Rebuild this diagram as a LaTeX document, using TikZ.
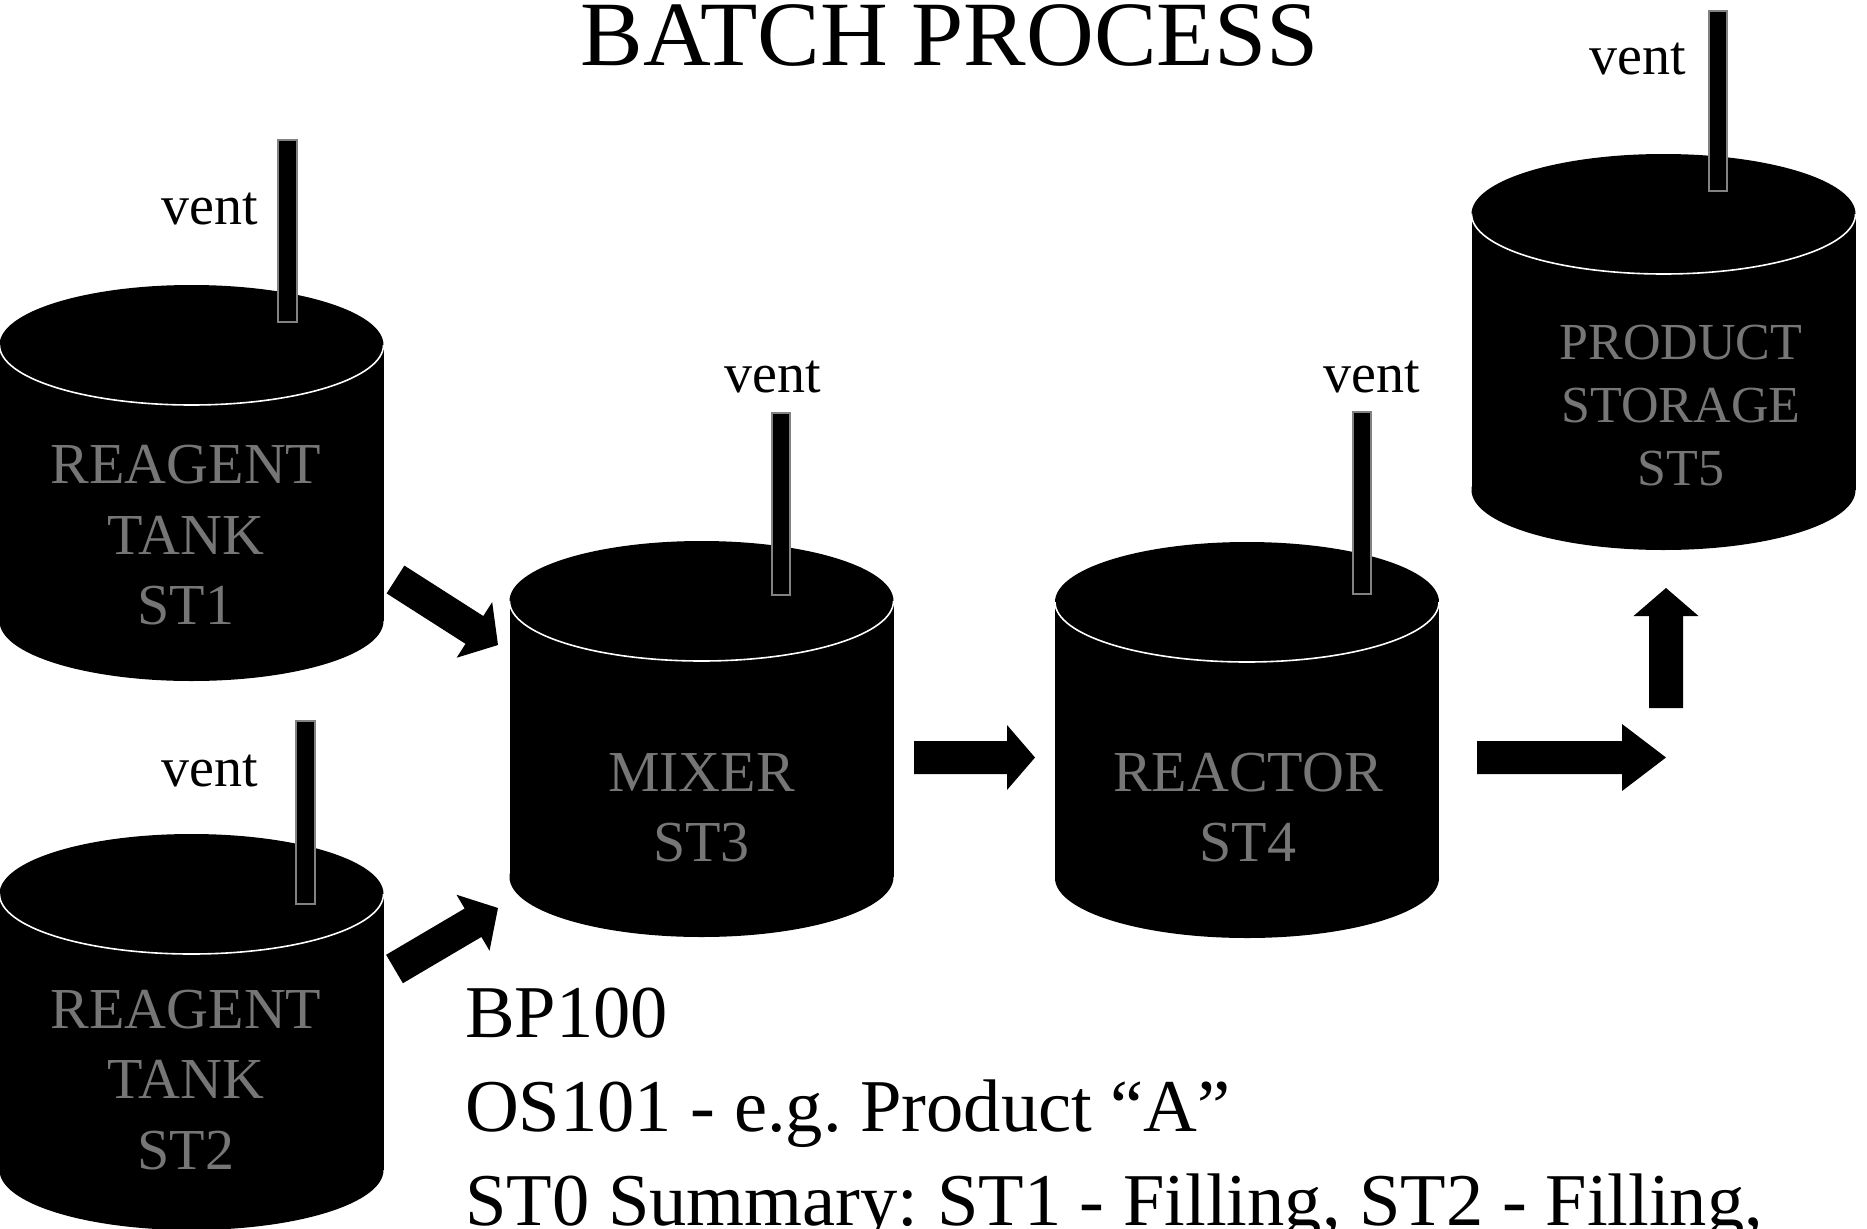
\documentclass[tikz,border=0pt]{standalone}
\usepackage{fontspec}
\setmainfont{Liberation Serif}
\usetikzlibrary{calc}
\frenchspacing
\definecolor{lbl}{RGB}{118,118,118}
\definecolor{ventedge}{RGB}{130,130,130}
\tikzset{
  tank/.pic={
    \fill[black] (0,276) ellipse [x radius=192, y radius=60];
    \fill[black] (-192,0) rectangle (192,276);
    \fill[black] (0,0) ellipse [x radius=192, y radius=60];
    \begin{scope}
      \clip (-200,0) rectangle (200,70);
      \draw[white, line width=1.6pt] (0,0) ellipse [x radius=192, y radius=60];
    \end{scope}
  },
  ventpipe/.style={draw=ventedge, line width=1.5pt, fill=black},
  venttext/.style={font=\fontsize{56}{60}\selectfont, anchor=base, inner sep=0pt},
  tanklabel/.style={text=lbl, align=center, inner sep=0pt, font=\fontsize{58}{70.5}\selectfont},
}
\newcommand\blockarrow[5]{%
  \path ($(#2)!#5!(#1)$) coordinate (ba);
  \fill[black] ($(#1)!#3!90:(#2)$) -- ($(ba)!#3!90:(#2)$) -- ($(ba)!#4!90:(#2)$) -- (#2)
    -- ($(ba)!#4!-90:(#2)$) -- ($(ba)!#3!-90:(#2)$) -- ($(#1)!#3!-90:(#2)$) -- cycle;
}
\begin{document}
\begin{tikzpicture}[x=1pt,y=-1pt]
\useasboundingbox (0,0) rectangle (1867,1228);
\fill[white] (0,0) rectangle (1867,1228);

% title
\node[font=\fontsize{92}{100}\selectfont, anchor=base, inner sep=0pt, xscale=1.02, transform shape] (title) at (949.5,66) {BATCH PROCESS};

% tanks
\pic (t1) at (191.5,345) {tank};
\pic (t2) at (191.5,894) {tank};
\pic (t3) at (701.5,601) {tank};
\pic (t4) at (1247,602) {tank};
\pic (t5) at (1663.5,214) {tank};

% vents
\draw[ventpipe] (278,140) rectangle (297,322);
\draw[ventpipe] (296,721) rectangle (315,904);
\draw[ventpipe] (772,413) rectangle (790,595);
\draw[ventpipe] (1353,412) rectangle (1371,594);
\draw[ventpipe] (1709,11) rectangle (1727,191);

\node[venttext] (v1) at (210,224) {vent};
\node[venttext] (v2) at (210,786) {vent};
\node[venttext] (v3) at (773,392) {vent};
\node[venttext] (v4) at (1372,392) {vent};
\node[venttext] (v5) at (1637.5,75) {vent};

% tank labels
\node[tanklabel] (l1) at (186,535.3) {REAGENT\\TANK\\ST1};
\node[tanklabel] (l2) at (186,1079.8) {REAGENT\\TANK\\ST2};
\node[tanklabel] (l3) at (701.5,807.8) {MIXER\\ST3};
\node[tanklabel] (l4) at (1248,807.8) {REACTOR\\ST4};
\node[tanklabel, font=\fontsize{52}{63}\selectfont] (l5) at (1681,405.8) {PRODUCT\\STORAGE\\ST5};

% arrows
\coordinate (a1t) at (395.5,579.5); \coordinate (a1h) at (498,645);
\coordinate (a2t) at (394.5,969);   \coordinate (a2h) at (498,908);
\coordinate (a3t) at (914,757.5);   \coordinate (a3h) at (1035,757.5);
\coordinate (a4t) at (1477,757.5);  \coordinate (a4h) at (1666,757.5);
\coordinate (a5t) at (1666,708);    \coordinate (a5h) at (1666,588);
\blockarrow{a1t}{a1h}{16.5pt}{33pt}{28pt}
\blockarrow{a2t}{a2h}{16.5pt}{32.5pt}{29pt}
\blockarrow{a3t}{a3h}{16.5pt}{32.5pt}{28pt}
\blockarrow{a4t}{a4h}{16.5pt}{33.5pt}{44pt}
\blockarrow{a5t}{a5h}{17pt}{32.5pt}{28pt}

% info text
\node[font=\fontsize{74.5}{94}\selectfont, align=left, anchor=north west, inner sep=0pt] (info) at (465,988)
  {BP100\\OS101 - e.g. Product “A”\\ST0 Summary: ST1 - Filling, ST2 - Filling,};
\end{tikzpicture}
\end{document}
